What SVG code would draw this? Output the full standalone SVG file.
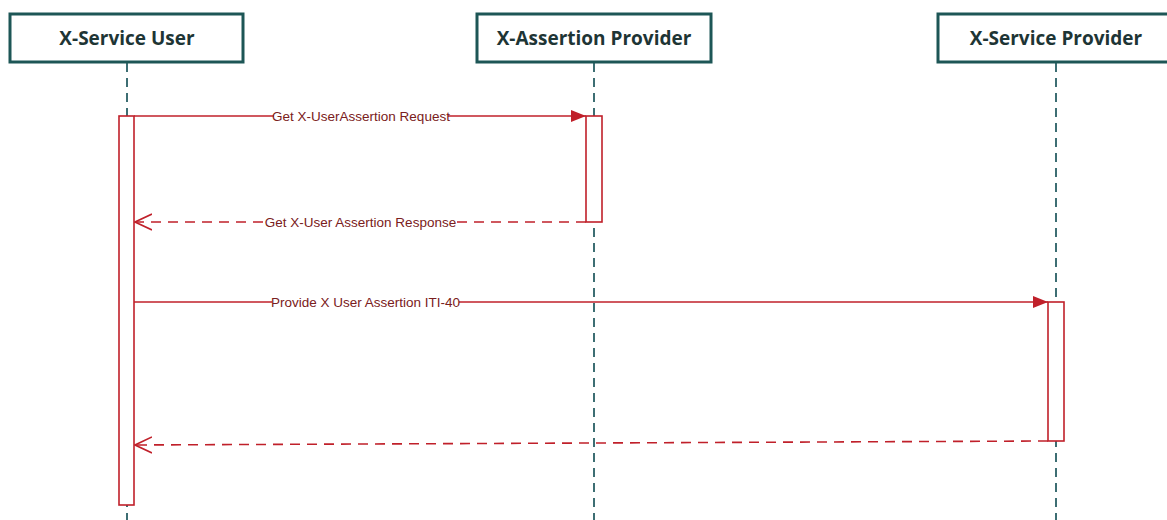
<svg xmlns="http://www.w3.org/2000/svg" width="1167" height="520" viewBox="0 0 1167 520">
<defs>
<style>
.head{fill:#fff;stroke:#1d5656;stroke-width:3}
.htxt{font-family:"Open Sans","Liberation Sans",sans-serif;font-weight:bold;font-size:19px;fill:#1e3535;text-anchor:middle}
.life{stroke:#3d6e73;stroke-width:2;stroke-dasharray:9 6;fill:none}
.act{fill:#fff;stroke:#c0202a;stroke-width:1.6}
.msg{stroke:#c0202a;stroke-width:1.6;fill:none}
.ret{stroke:#c0202a;stroke-width:1.6;fill:none;stroke-dasharray:10 7}
.lbl{font-family:"Liberation Sans",Arial,sans-serif;font-size:13.5px;fill:#7a2020;text-anchor:middle}
.bg{fill:#fff}
</style>
<marker id="filled" markerWidth="16" markerHeight="12" refX="15" refY="6" orient="auto" markerUnits="userSpaceOnUse">
<path d="M0,0 L15,6 L0,12 Z" fill="#c0202a"/>
</marker>
<marker id="open" markerWidth="18" markerHeight="18" refX="17" refY="9" orient="auto" markerUnits="userSpaceOnUse">
<path d="M0,1 L17,9 L0,17" fill="none" stroke="#c0202a" stroke-width="1.6"/>
</marker>
</defs>
<rect width="1167" height="520" fill="#fff"/>
<g id="lifelines">
<line class="life" x1="127" y1="63" x2="127" y2="520"/>
<line class="life" x1="594" y1="63" x2="594" y2="520"/>
<line class="life" x1="1056" y1="63" x2="1056" y2="520"/>
</g>
<g id="node-user">
<rect class="head" x="10" y="14" width="233" height="48"/>
<text class="htxt" x="127" y="45">X-Service User</text>
<rect class="act" x="119" y="116" width="15" height="389"/>
</g>
<g id="node-assertion">
<rect class="head" x="477" y="14" width="234" height="48"/>
<text class="htxt" x="594" y="45">X-Assertion Provider</text>
<rect class="act" x="586" y="116" width="16" height="106"/>
</g>
<g id="node-provider">
<rect class="head" x="938" y="14" width="240" height="48"/>
<text class="htxt" x="1056" y="45">X-Service Provider</text>
<rect class="act" x="1048" y="302" width="16" height="139"/>
</g>
<g id="connectors">
<line class="msg" x1="134" y1="116" x2="586" y2="116" marker-end="url(#filled)"/>
<rect class="bg" x="274" y="108" width="174" height="16"/>
<text class="lbl" x="361" y="120.5">Get X-UserAssertion Request</text>
<line class="ret" x1="586" y1="222" x2="135" y2="222" marker-end="url(#open)"/>
<rect class="bg" x="267" y="214" width="187" height="16"/>
<text class="lbl" x="360.5" y="226.5">Get X-User Assertion Response</text>
<line class="msg" x1="134" y1="302" x2="1048" y2="302" marker-end="url(#filled)"/>
<rect class="bg" x="272" y="294" width="187" height="16"/>
<text class="lbl" x="365.5" y="306.5">Provide X User Assertion ITI-40</text>
<line class="ret" x1="1048" y1="441" x2="135" y2="445" marker-end="url(#open)"/>
</g>
</svg>
